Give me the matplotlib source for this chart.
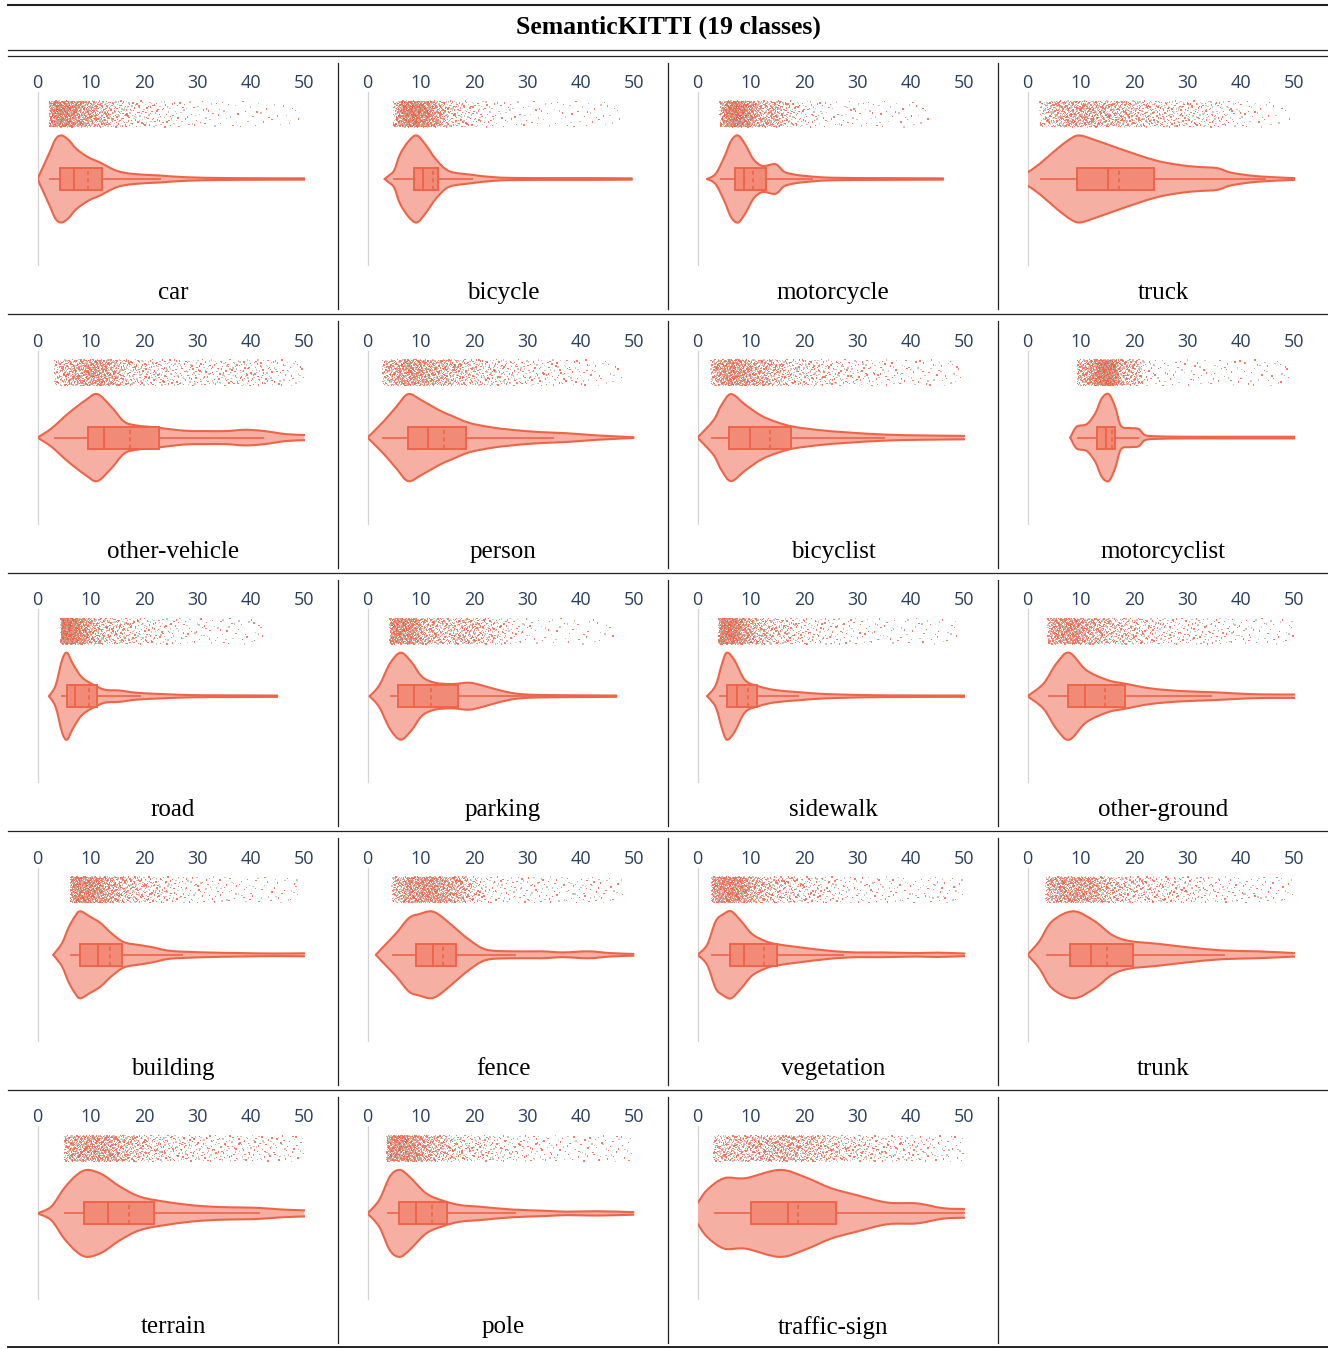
import numpy as np
import matplotlib
matplotlib.use("Agg")
import matplotlib.pyplot as plt
from matplotlib.path import Path
from matplotlib.patches import PathPatch, Rectangle

# =========================
# DATA
# =========================
CLASSES = [
    "car", "bicycle", "motorcycle", "truck",
    "other-vehicle", "person", "bicyclist", "motorcyclist",
    "road", "parking", "sidewalk", "other-ground",
    "building", "fence", "vegetation", "trunk",
    "terrain", "pole", "traffic-sign",
]

# box statistics (x units)
WHISK_LO = [2.2, 4.8, 4.2, 2.3, 3.1, 2.8, 2.5, 9.3, 4.4, 4.2, 4.0, 3.8,
            6.15, 4.6, 2.6, 3.4, 5.0, 3.6, 3.0]
Q1 = [4.3, 8.8, 7.0, 9.35, 9.4, 7.6, 5.9, 13.1, 5.5, 5.8, 5.6, 7.6,
      8.0, 9.0, 6.0, 7.9, 8.8, 5.85, 9.96]
MEDIAN = [6.8, 10.4, 8.8, 15.0, 12.4, 11.4, 9.8, 14.7, 7.1, 8.7, 7.4, 10.8,
          11.35, 12.35, 8.7, 11.8, 13.2, 9.05, 16.9]
MEAN = [9.5, 12.2, 10.4, 17.2, 17.3, 14.3, 13.6, 15.8, 9.6, 11.8, 9.5, 14.6,
        13.6, 14.2, 12.4, 14.8, 17.2, 12.1, 18.9]
Q3 = [12.0, 13.2, 12.9, 23.6, 22.7, 18.4, 17.5, 16.4, 11.2, 17.0, 11.2, 18.2,
      15.9, 16.6, 14.8, 19.7, 21.9, 14.8, 26.0]
WHISK_HI = [23.2, 19.8, 21.7, 44.7, 42.5, 35.0, 35.1, 20.9, 19.3, 46.6, 19.1, 34.6,
            27.2, 27.8, 27.5, 37.0, 41.6, 27.8, 50.0]
# largest sample value in each class
SAMPLE_MAX = [49.5, 47.7, 43.6, 50.0, 50.0, 48.2, 49.5, 49.2, 42.5, 46.6, 48.9, 50.0,
              49.0, 48.2, 50.0, 50.0, 50.0, 49.8, 50.0]

# violin outlines: x knots and relative half width (1 = widest)
car_x = [0, 1.0, 2.3, 3.4, 4.5, 5.8, 7.3, 9.5, 11.7, 14.8, 18, 23, 28, 36.7, 50]
car_w = [0.0, 0.27, 0.62, 0.92, 1.0, 0.9, 0.69, 0.5, 0.38, 0.19, 0.115, 0.08, 0.04, 0.02, 0.015]
bicycle_x = [3.2, 4.0, 5.0, 6.1, 7.7, 9.2, 10.8, 12.9, 15.3, 19.3, 23.3, 27.3, 35, 42, 49.5]
bicycle_w = [0.0, 0.08, 0.2, 0.57, 0.87, 1.0, 0.8, 0.44, 0.18, 0.1, 0.045, 0.025, 0.02, 0.02, 0.015]
motorcycle_x = [1.8, 3.4, 5.0, 6.3, 7.6, 9.0, 10.5, 12.2, 14.6, 16.2, 17.8, 20.2, 25, 35, 46]
motorcycle_w = [0.0, 0.12, 0.5, 0.88, 1.0, 0.78, 0.45, 0.3, 0.34, 0.17, 0.11, 0.07, 0.03, 0.02, 0.015]
truck_x = [0, 2.3, 5.5, 8, 9.8, 13, 16.7, 20.5, 24.2, 28, 31.7, 35.5, 38, 41.7, 44.8, 48, 50]
truck_w = [0.15, 0.35, 0.69, 0.92, 1.0, 0.88, 0.72, 0.56, 0.42, 0.33, 0.28, 0.25, 0.15, 0.08, 0.05, 0.03, 0.02]
other_vehicle_x = [0, 2.6, 5.8, 9.0, 11.2, 13.8, 16.2, 18.5, 22.5, 27.3, 31.3, 35.3, 38.9, 42.5, 46.5, 50]
other_vehicle_w = [0.0, 0.21, 0.56, 0.86, 1.0, 0.71, 0.37, 0.28, 0.23, 0.16, 0.15, 0.15, 0.18, 0.15, 0.08, 0.06]
person_x = [0, 3.0, 5.4, 7.6, 10.1, 13.4, 15.8, 19, 23, 27, 31.8, 37.4, 43, 49.8]
person_w = [0.0, 0.37, 0.71, 1.0, 0.86, 0.63, 0.5, 0.34, 0.24, 0.18, 0.13, 0.1, 0.05, 0.01]
bicyclist_x = [0, 3, 4.5, 6.3, 9, 12, 15, 18, 23, 28, 35, 42, 50]
bicyclist_w = [0.0, 0.4, 0.75, 1.0, 0.75, 0.5, 0.35, 0.25, 0.17, 0.12, 0.07, 0.05, 0.04]
motorcyclist_x = [8.0, 9.2, 11.1, 12.7, 13.9, 15.2, 16.4, 17.5, 19.2, 20.8, 22, 24.2, 30, 40, 50]
motorcyclist_w = [0.0, 0.25, 0.31, 0.56, 0.9, 1.0, 0.71, 0.27, 0.22, 0.2, 0.06, 0.03, 0.02, 0.02, 0.02]
road_x = [2.15, 3.4, 4.6, 5.5, 6.6, 8.2, 10.2, 12.6, 15.4, 18.5, 23.3, 28.9, 35, 44.9]
road_w = [0.0, 0.25, 0.83, 1.0, 0.75, 0.45, 0.28, 0.15, 0.13, 0.08, 0.05, 0.025, 0.02, 0.015]
parking_x = [0.4, 2.2, 4.2, 6.2, 8.2, 10.2, 12.6, 15.8, 19.0, 21.4, 24.6, 27.8, 31.8, 40, 46.6]
parking_w = [0.0, 0.25, 0.75, 1.0, 0.79, 0.45, 0.31, 0.28, 0.31, 0.25, 0.14, 0.06, 0.03, 0.02, 0.015]
sidewalk_x = [1.8, 3.4, 4.6, 5.5, 6.9, 8.9, 11.4, 14.6, 19.3, 22.5, 26.5, 35, 50]
sidewalk_w = [0.0, 0.25, 0.75, 1.0, 0.83, 0.37, 0.23, 0.14, 0.09, 0.06, 0.04, 0.02, 0.015]
other_ground_x = [0, 3.0, 5.4, 7.8, 11, 15, 18.2, 23, 28.6, 35, 41.4, 46.2, 50]
other_ground_w = [0.0, 0.29, 0.75, 1.0, 0.6, 0.37, 0.29, 0.18, 0.12, 0.09, 0.05, 0.04, 0.04]
building_x = [2.96, 4.6, 5.8, 7.0, 8.0, 9.8, 11.8, 13.8, 16.2, 19.3, 21.7, 24.9, 31.3, 37.7, 44, 50]
building_w = [0.0, 0.27, 0.62, 0.88, 1.0, 0.88, 0.73, 0.5, 0.29, 0.22, 0.17, 0.09, 0.055, 0.04, 0.03, 0.035]
fence_x = [1.56, 3.0, 5.4, 7.8, 9.8, 11.8, 13.4, 15.8, 19, 22.2, 27, 32.6, 36.6, 41.4, 45.4, 49.8]
fence_w = [0.0, 0.19, 0.5, 0.85, 0.94, 1.0, 0.92, 0.68, 0.35, 0.12, 0.08, 0.08, 0.055, 0.08, 0.04, 0.02]
vegetation_x = [0, 1.8, 3.4, 4.8, 6.3, 8.2, 10.2, 12.6, 14.6, 19.3, 24.9, 29.7, 34.5, 40.9, 44.9, 50]
vegetation_w = [0.0, 0.23, 0.77, 0.93, 1.0, 0.77, 0.48, 0.32, 0.25, 0.17, 0.09, 0.055, 0.055, 0.04, 0.05, 0.03]
trunk_x = [0, 2.2, 4.6, 8.6, 12.6, 15.8, 19, 24.6, 30.2, 36.6, 43, 50]
trunk_w = [0.0, 0.31, 0.77, 1.0, 0.77, 0.46, 0.32, 0.25, 0.17, 0.1, 0.08, 0.04]
terrain_x = [0, 2.6, 5.0, 7.4, 9.4, 12.2, 15.4, 19.3, 24.9, 30.5, 36.1, 40.9, 45.7, 50]
terrain_w = [0.0, 0.16, 0.58, 0.89, 1.0, 0.89, 0.62, 0.38, 0.25, 0.17, 0.14, 0.13, 0.09, 0.07]
pole_x = [0, 2.2, 4.2, 6.0, 7.8, 11, 14.2, 17.4, 21.4, 27, 33.4, 37.4, 43, 49.8]
pole_w = [0.0, 0.31, 0.85, 1.0, 0.85, 0.46, 0.29, 0.19, 0.15, 0.09, 0.06, 0.04, 0.05, 0.03]
traffic_sign_x = [0, 1.8, 5.0, 9.0, 15.4, 20.2, 25.0, 29.8, 35.5, 41.1, 46.0, 50]
traffic_sign_w = [0.23, 0.54, 0.81, 0.81, 1.0, 0.83, 0.58, 0.42, 0.25, 0.23, 0.12, 0.1]

OUTLINES = [
    (car_x, car_w), (bicycle_x, bicycle_w), (motorcycle_x, motorcycle_w), (truck_x, truck_w),
    (other_vehicle_x, other_vehicle_w), (person_x, person_w), (bicyclist_x, bicyclist_w),
    (motorcyclist_x, motorcyclist_w), (road_x, road_w), (parking_x, parking_w),
    (sidewalk_x, sidewalk_w), (other_ground_x, other_ground_w), (building_x, building_w),
    (fence_x, fence_w), (vegetation_x, vegetation_w), (trunk_x, trunk_w),
    (terrain_x, terrain_w), (pole_x, pole_w), (traffic_sign_x, traffic_sign_w),
]

TICKS = [0, 10, 20, 30, 40, 50]

# =========================
# STYLE / LAYOUT (pixels)
# =========================
W, H = 1328, 1349
ROW_PITCH = 258.6
CELL_W = 330
LINE = "#EE6449"
VIOLIN_FILL = "#F6AFA3"
BOX_FILL = "#F28A78"
DOT_RED = (0.93, 0.38, 0.27, 0.8)
DOT_GREY = (0.74, 0.66, 0.61, 0.7)
TICK_COLOR = "#2a3f5f"
HALF_W = 43.5      # widest violin half width
BOX_H = 11.0       # box half height
N_DOTS = 1150

plt.rcParams["font.family"] = ["Open Sans", "DejaVu Sans"]


def halton(start, n, base):
    out = np.empty(n)
    for j in range(n):
        k, f, r = start + j + 1, 1.0, 0.0
        while k > 0:
            f /= base
            r += f * (k % base)
            k //= base
        out[j] = r
    return out


def smooth_segments(xs, ys):
    """Catmull-Rom knots -> cubic bezier vertices (without the first point)."""
    p = np.column_stack([xs, ys]).astype(float)
    ext = np.vstack([p[0], p, p[-1]])
    verts = []
    for i in range(len(p) - 1):
        p0, p1, p2, p3 = ext[i], ext[i + 1], ext[i + 2], ext[i + 3]
        c1 = p1 + (p2 - p0) / 6.0
        c2 = p2 - (p3 - p1) / 6.0
        verts += [c1, c2, p2]
    return p[0], verts


def draw_violin(ax, kx, kw):
    ys = np.asarray(kw) * HALF_W
    start, up = smooth_segments(kx, ys)
    lstart, low = smooth_segments(kx[::-1], -ys[::-1])

    # filled body
    verts = [start] + up + [lstart] + low + [start]
    codes = ([Path.MOVETO] + [Path.CURVE4] * len(up) + [Path.LINETO]
             + [Path.CURVE4] * len(low) + [Path.CLOSEPOLY])
    ax.add_patch(PathPatch(Path(verts, codes), facecolor=VIOLIN_FILL,
                           edgecolor="none", zorder=1))
    # upper and lower outline
    for s, seg in ((start, up), (lstart, low)):
        path = Path([s] + seg, [Path.MOVETO] + [Path.CURVE4] * len(seg))
        ax.add_patch(PathPatch(path, facecolor="none", edgecolor=LINE,
                               lw=1.5, zorder=2, capstyle="round", joinstyle="round"))


def draw_points(ax, k, kx, kw, lo, hi):
    gx = np.linspace(lo, hi, 600)
    dens = np.interp(gx, kx, kw)
    cdf = np.cumsum(dens)
    cdf = (cdf - cdf[0]) / (cdf[-1] - cdf[0])
    u = halton(40 * k, N_DOTS, 2)
    v = halton(40 * k, N_DOTS, 3)
    xs = np.interp(u, cdf, gx)
    ys = 52 + 26 * v
    cols = [DOT_RED if j % 5 < 3 else DOT_GREY for j in range(N_DOTS)]
    ax.scatter(xs, ys, s=1.0, marker="s", c=cols, linewidths=0, zorder=3)


def draw_box(ax, k):
    q1, q3 = Q1[k], Q3[k]
    ax.plot([WHISK_LO[k], q1], [0, 0], color=LINE, lw=1.2, zorder=4, solid_capstyle="butt")
    ax.plot([q3, WHISK_HI[k]], [0, 0], color=LINE, lw=1.2, zorder=4, solid_capstyle="butt")
    ax.add_patch(Rectangle((q1, -BOX_H), q3 - q1, 2 * BOX_H, facecolor=BOX_FILL,
                           edgecolor=LINE, lw=1.4, zorder=5))
    ax.plot([MEDIAN[k]] * 2, [-BOX_H, BOX_H], color=LINE, lw=1.4, zorder=6)
    ax.plot([MEAN[k]] * 2, [-BOX_H, BOX_H], color=LINE, lw=1.2, ls=(0, (2.5, 2)), zorder=6)


fig = plt.figure(figsize=(W / 100, H / 100), dpi=100)

# table frame
bg = fig.add_axes([0, 0, 1, 1])
bg.set_xlim(0, W)
bg.set_ylim(H, 0)
bg.axis("off")

bg.plot([8, W], [5, 5], color="#222222", lw=1.5)
bg.plot([8, W], [49.5, 49.5], color="#222222", lw=0.9)
bg.plot([8, W], [55.5, 55.5], color="#222222", lw=0.9)
row_lines = [55.5] + [314 + ROW_PITCH * r for r in range(5)]
for y in row_lines[1:-1]:
    bg.plot([8, W], [y, y], color="#222222", lw=0.9)
bg.plot([8, W], [row_lines[-1] - 1, row_lines[-1] - 1], color="#222222", lw=1.4)
for r in range(5):
    for c in range(1, 4):
        x = 8 + CELL_W * c
        bg.plot([x, x], [row_lines[r] + 7, row_lines[r + 1] - 5], color="#222222", lw=0.9)

bg.text(668, 27.5, "SemanticKITTI (19 classes)", ha="center", va="center",
        fontsize=18.5, fontweight="bold", family=["Liberation Serif", "DejaVu Serif"])

for k, name in enumerate(CLASSES):
    r, c = divmod(k, 4)
    off = ROW_PITCH * r
    left = 37.5 + CELL_W * c
    top, bottom = 92 + off, 265 + off
    ax = fig.add_axes([left / W, 1 - bottom / H, 267 / W, (bottom - top) / H])
    ax.set_xlim(0, 50)
    ax.set_ylim(-86, 87)
    for sp in ax.spines.values():
        sp.set_visible(False)
    ax.set_yticks([])
    ax.set_xticks(TICKS)
    ax.xaxis.set_ticks_position("top")
    ax.tick_params(axis="x", length=0, pad=0, labelsize=13, labelcolor=TICK_COLOR)
    ax.axvline(0, color="#d4d4d4", lw=0.9, clip_on=False, zorder=0)

    kx, kw = OUTLINES[k]
    draw_violin(ax, kx, kw)
    draw_points(ax, k, kx, kw, WHISK_LO[k], SAMPLE_MAX[k])
    draw_box(ax, k)

    bg.text(173 + CELL_W * c, 293 + off, name, ha="center", va="center",
            fontsize=18, family=["Liberation Serif", "DejaVu Serif"])

fig.savefig("out.png", dpi=100)
